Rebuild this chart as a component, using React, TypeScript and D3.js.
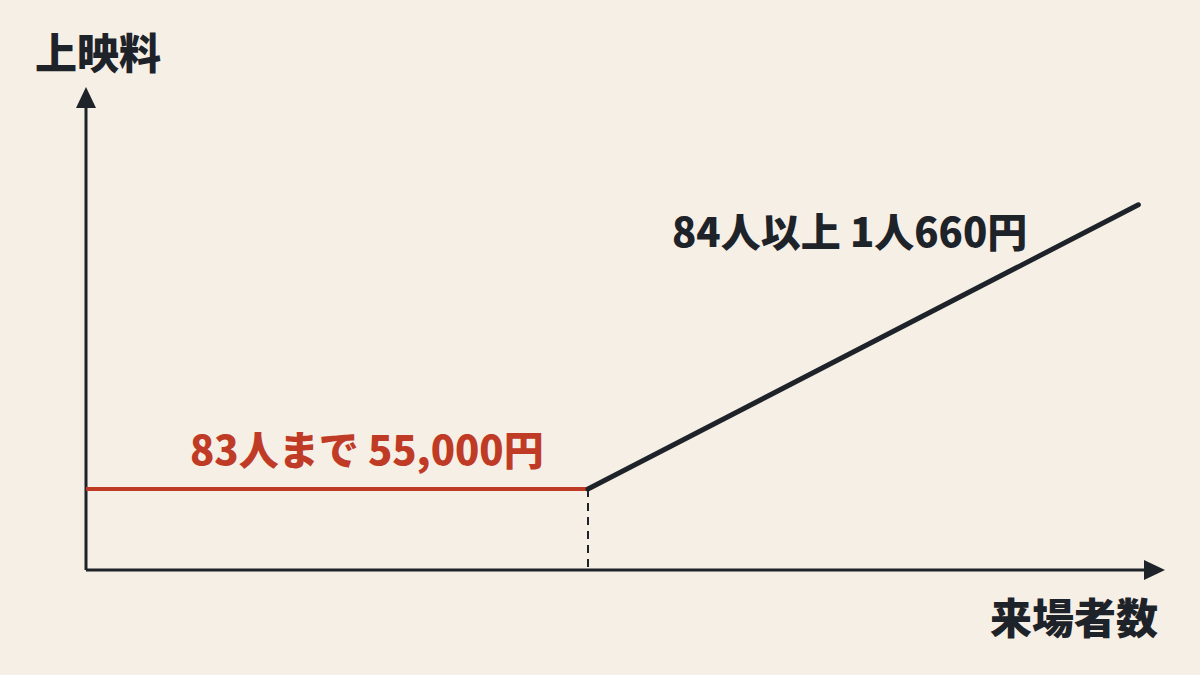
import React from "react";
import * as d3 from "d3";

// Data (schematic fee structure)
const visitors = [0, 83, 174];
const fees = [55000, 55000, 248000];
const threshold = 83;
const yAxisLabel = "上映料";
const xAxisLabel = "来場者数";
const flatLabel = "83人まで 55,000円";
const slopeLabel = "84人以上 1人660円";

const W = 1200;
const H = 675;
const BG = "#f6efe6";
const INK = "#1d2329";
const RED = "#bf3b26";
const FONT = "'Noto Sans CJK JP', 'Noto Sans', sans-serif";

export default function App() {
  const x = d3.scaleLinear().domain([0, threshold]).range([86, 588]);
  const y = d3.scaleLinear().domain([0, 55000]).range([570, 489]);

  const pts = visitors.map((v, i) => [x(v), y(fees[i])] as [number, number]);
  const line = d3.line();
  const flatPath = line(pts.slice(0, 2)) || "";
  const slopePath = line(pts.slice(1)) || "";

  const x0 = x(0);
  const y0 = y(0);

  return (
    <svg
      width={W}
      height={H}
      style={{ position: "absolute", left: 0, top: 0, background: BG }}
    >
      <rect x={0} y={0} width={W} height={H} fill={BG} />
      {/* axes */}
      <line x1={x0} y1={y0} x2={x0} y2={106} stroke={INK} strokeWidth={3} />
      <path d={`M${x0},87 L${x0 - 10},108 L${x0 + 10},108 Z`} fill={INK} />
      <line x1={x0} y1={y0} x2={1146} y2={y0} stroke={INK} strokeWidth={3} />
      <path d={`M1165,${y0} L1144,${y0 - 10} L1144,${y0 + 10} Z`} fill={INK} />

      {/* dashed threshold */}
      <line
        x1={x(threshold)}
        y1={y(fees[1])}
        x2={x(threshold)}
        y2={y0}
        stroke={INK}
        strokeWidth={2}
        strokeDasharray="8 6"
      />

      {/* series */}
      <path d={flatPath} fill="none" stroke={RED} strokeWidth={4} />
      <path d={slopePath} fill="none" stroke={INK} strokeWidth={5} strokeLinecap="round" />

      {/* labels */}
      <text x={35} y={69} fontFamily={FONT} fontWeight={800} fontSize={42} fill={INK}>
        {yAxisLabel}
      </text>
      <text x={1158} y={634} textAnchor="end" fontFamily={FONT} fontWeight={800} fontSize={42} fill={INK}>
        {xAxisLabel}
      </text>
      <text x={190} y={465} fontFamily={FONT} fontWeight={800} fontSize={40} fill={RED}>
        {flatLabel}
      </text>
      <text x={672} y={247} fontFamily={FONT} fontWeight={800} fontSize={40} fill={INK}>
        {slopeLabel}
      </text>
    </svg>
  );
}
